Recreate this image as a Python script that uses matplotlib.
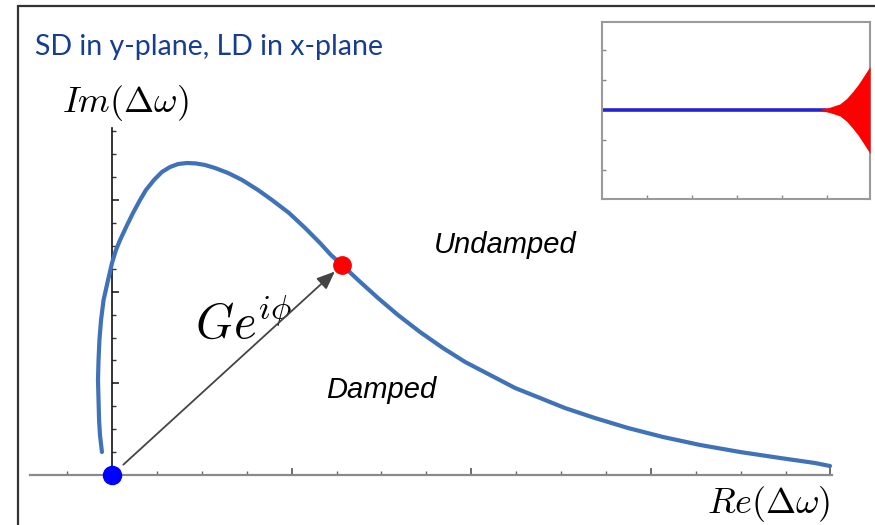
import matplotlib.pyplot as plt
from matplotlib.patches import Rectangle

plt.rcParams['mathtext.fontset'] = 'cm'

# stability diagram: Re / Im of the tune shift (major tick = 1, minor = 0.25)
re_dw = [-0.056, -0.067, -0.072, -0.075, -0.078, -0.075, -0.070, -0.061, -0.047,
         -0.022, 0.0, 0.022, 0.045, 0.084, 0.117, 0.156, 0.189, 0.234, 0.278,
         0.323, 0.368, 0.418, 0.468, 0.518, 0.574, 0.646, 0.724, 0.813, 0.891,
         0.986, 1.075, 1.158, 1.219, 1.281, 1.370, 1.481, 1.592, 1.715, 1.843,
         1.966, 2.105, 2.244, 2.383, 2.522, 2.689, 2.873, 3.068, 3.274, 3.497,
         3.719, 3.914, 3.998]
im_dw = [0.251, 0.437, 0.600, 0.819, 1.037, 1.255, 1.474, 1.692, 1.910,
         2.129, 2.314, 2.456, 2.566, 2.729, 2.860, 3.002, 3.111, 3.221, 3.308,
         3.362, 3.395, 3.406, 3.401, 3.384, 3.351, 3.297, 3.221, 3.111, 3.002,
         2.860, 2.697, 2.533, 2.402, 2.293, 2.129, 1.932, 1.747, 1.561, 1.386,
         1.234, 1.092, 0.950, 0.841, 0.731, 0.622, 0.513, 0.415, 0.328, 0.251,
         0.186, 0.131, 0.098]
origin = (0.0, 0.0)
tip = (1.281, 2.293)

# inset: beam signal, stable then growing
sig_t = [0.0, 4.95]
sig_v = [0.0, 0.0]
env_t = [4.88, 5.07, 5.29, 5.44, 5.58, 5.70, 5.80, 5.96]
env_a = [0.03, 0.09, 0.20, 0.38, 0.62, 0.85, 1.08, 1.45]

fig = plt.figure(figsize=(8.75, 5.25), dpi=100)

# slide frame
fig.patches.append(Rectangle((18 / 875, -0.1), 1.0, (525 - 6) / 525 + 0.1,
                             transform=fig.transFigure, fill=False,
                             edgecolor='#333333', linewidth=1.6))

ax = fig.add_axes([30 / 875, 50 / 525, 802 / 875, 347 / 525])
ax.set_xlim(-0.4566, 4.0089)
ax.set_ylim(0, 3.788)
for s in ['top', 'right']:
    ax.spines[s].set_visible(False)
ax.spines['left'].set_position(('data', 0))
ax.spines['left'].set_color('#111111')
ax.spines['left'].set_linewidth(1.2)
ax.spines['bottom'].set_color('#8a8a8a')
ax.spines['bottom'].set_linewidth(1.6)

ax.set_xticks([0, 1, 2, 3, 4])
ax.set_xticks([-0.25] + [k * 0.25 for k in range(1, 16) if k % 4], minor=True)
ax.set_yticks([1, 2, 3])
ax.set_yticks([k * 0.25 for k in range(1, 16) if k % 4], minor=True)
ax.tick_params(axis='x', which='major', direction='in', length=5, width=1.2,
               color='#555555', labelbottom=False)
ax.tick_params(axis='x', which='minor', direction='in', length=3, width=1.0,
               color='#666666')
ax.tick_params(axis='y', which='major', direction='in', length=5, width=1.2,
               color='#222222', labelleft=False)
ax.tick_params(axis='y', which='minor', direction='in', length=3, width=1.0,
               color='#333333')

ax.plot(re_dw, im_dw, color='#3f72b8', lw=3.0, solid_capstyle='round',
        solid_joinstyle='round', zorder=3)
ax.annotate('', xy=tip, xytext=origin,
            arrowprops=dict(arrowstyle='-|>,head_length=1.1,head_width=0.45',
                            color='#444444', lw=1.3, shrinkA=11, shrinkB=7),
            zorder=4)
ax.plot(*origin, 'o', color='#0000ff', ms=13, clip_on=False, zorder=5)
ax.plot(*tip, 'o', color='#ff0000', ms=12.5, clip_on=False, zorder=5)

ax.text(0.46, 1.50, r'$Ge^{i\phi}$', fontsize=35, ha='left', va='baseline')
ax.text(1.79, 2.51, 'Undamped', fontsize=21, style='italic',
        family='Liberation Sans', ha='left', va='center')
ax.text(1.19, 0.93, 'Damped', fontsize=21, style='italic',
        family='Liberation Sans', ha='left', va='center')

fig.text(35 / 875, 1 - 47 / 525, 'SD in y-plane, LD in x-plane', fontsize=20.5,
         family='Lato', color='#163d91', ha='left', va='center')
fig.text(62 / 875, 1 - 112 / 525, r'$Im(\Delta\omega)$', fontsize=26,
         ha='left', va='baseline')
fig.text(830 / 875, 1 - 513 / 525, r'$Re(\Delta\omega)$', fontsize=26,
         ha='right', va='baseline')

# inset
ins = fig.add_axes([602 / 875, 326 / 525, 268 / 875, 177 / 525])
ins.set_xlim(0, 5.96)
ins.set_ylim(-2.97, 2.93)
for s in ins.spines.values():
    s.set_color('#9a9a9a')
    s.set_linewidth(1.5)
ins.set_xticks([1, 2, 3, 4, 5])
ins.set_yticks([-2, -1, 1, 2])
ins.tick_params(direction='in', length=3, width=1.0, color='#888888',
                labelbottom=False, labelleft=False)
ins.plot(sig_t, sig_v, color='#2424d0', lw=2.6, zorder=2)
ins.fill_between(env_t, [-a for a in env_a], env_a, color='#ff0000', lw=0,
                 zorder=3)

fig.savefig('out.png', dpi=100)
